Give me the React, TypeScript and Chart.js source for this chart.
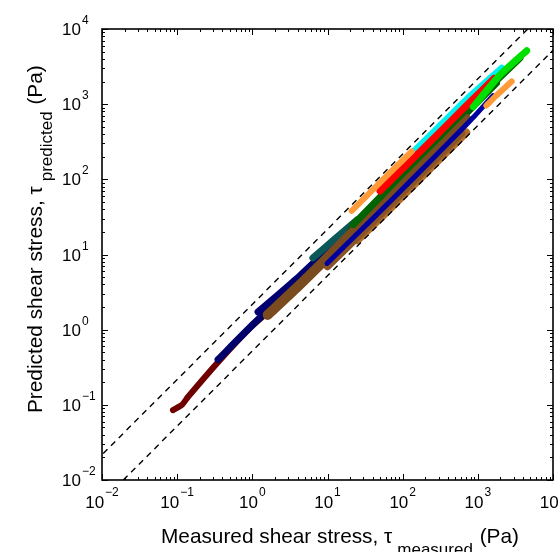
import React, { useEffect, useRef } from "react";
import { Chart, registerables } from "chart.js";

Chart.register(...registerables);

// ---- axis ranges and tick labels ----
const AXIS_MIN = 0.01;
const AXIS_MAX = 10000;
const TICK_EXPONENTS = [-2, -1, 0, 1, 2, 3, 4];
const X_TITLE = "Measured shear stress, τ";
const X_TITLE_SUB = "measured";
const Y_TITLE = "Predicted shear stress, τ";
const Y_TITLE_SUB = "predicted";
const TITLE_UNIT = " (Pa)";

// ---- reference lines: factor-of-two band ----
const UPPER_LINE = [[0.004, 0.0087], [10000, 21700]];
const LOWER_LINE = [[0.0192, 0.01], [19200, 10000]];

// ---- series (measured, predicted) in Pa, listed bottom to top ----
const maroonSeries = [[0.088, 0.085], [0.116, 0.1], [0.139, 0.127], [0.35, 0.37], [0.93, 1.05], [1.8, 1.9], [3, 3.1]];
const navySeries = [[0.35, 0.4], [1.0, 1.15], [3, 3.3], [8, 8], [20, 18]];
const navy2Series = [[1.19, 1.72], [2.2, 2.9], [4.3, 5.2], [10, 11.5], [25, 26]];
const tealSeries = [[6.4, 9.0], [12, 15.5], [25, 29]];
const ochreSeries = [[25, 15.5], [60, 36], [150, 90], [400, 240], [700, 420]];
const brown2Series = [[10, 7], [30, 20.5], [100, 68], [300, 205], [600, 410]];
const darkGreen2Series = [[20, 21], [60, 63], [200, 210], [600, 630], [1800, 1900]];
const greenSeries = [[12, 10.5], [20, 17], [45, 38], [100, 84]];
const brownSeries = [[1.6, 1.57], [4, 3.7], [10, 9.1], [30, 27.5], [100, 92], [300, 276], [700, 640]];
const blueSeries = [[9.85, 7.6], [40, 30], [150, 112], [426, 320], [900, 690], [1590, 1300]];
const darkGreenSeries = [[22, 25], [50, 58], [92, 110], [300, 360], [787, 950], [3640, 4110]];
const cyanSeries = [[79, 133], [250, 410], [740, 1200], [2076, 3000]];
const redSeries = [[50, 70], [120, 165], [253, 345], [700, 950], [1640, 2200]];
const orangeSeries = [[21, 38], [55, 100], [132, 235]];
const orange2Series = [[1300, 960], [1690, 1250], [2820, 2000]];
const limeSeries = [[871, 925], [1972, 2443], [4467, 5140]];

const SERIES = [
  { data: maroonSeries, color: "#6e0000", width: 6 },
  { data: navySeries, color: "#00006a", width: 7 },
  { data: navy2Series, color: "#000070", width: 7 },
  { data: tealSeries, color: "#0c5858", width: 7 },
  { data: ochreSeries, color: "#b06c2c", width: 8 },
  { data: brown2Series, color: "#8a5526", width: 8 },
  { data: darkGreen2Series, color: "#005a00", width: 6 },
  { data: greenSeries, color: "#008000", width: 5 },
  { data: brownSeries, color: "#7b4b20", width: 10 },
  { data: blueSeries, color: "#0000a0", width: 5 },
  { data: darkGreenSeries, color: "#006400", width: 7 },
  { data: cyanSeries, color: "#00f0f0", width: 7 },
  { data: redSeries, color: "#ff0000", width: 7 },
  { data: orangeSeries, color: "#ff9a38", width: 6 },
  { data: orange2Series, color: "#ff9a38", width: 6 },
  { data: limeSeries, color: "#00e000", width: 7 },
];

const FONT = "'Liberation Sans', Arial, Helvetica, sans-serif";

const axesPlugin = {
  id: "matlabAxes",
  afterDraw(chart: any) {
    const { ctx, chartArea } = chart;
    const xs = chart.scales.x;
    const ys = chart.scales.y;
    const { left, right, top, bottom } = chartArea;
    ctx.save();
    ctx.strokeStyle = "#000";
    ctx.fillStyle = "#000";

    // ticks
    ctx.lineWidth = 1;
    ctx.beginPath();
    for (let i = 0; i < TICK_EXPONENTS.length; i++) {
      const e = TICK_EXPONENTS[i];
      const base = Math.pow(10, e);
      const mults = i < TICK_EXPONENTS.length - 1 ? [1, 2, 3, 4, 5, 6, 7, 8, 9] : [1];
      for (const m of mults) {
        const v = base * m;
        const len = m === 1 ? 6 : 3;
        const px = Math.round(xs.getPixelForValue(v)) + 0.5;
        const py = Math.round(ys.getPixelForValue(v)) + 0.5;
        ctx.moveTo(px, bottom); ctx.lineTo(px, bottom - len);
        ctx.moveTo(px, top); ctx.lineTo(px, top + len);
        ctx.moveTo(left, py); ctx.lineTo(left + len, py);
        ctx.moveTo(right, py); ctx.lineTo(right - len, py);
      }
    }
    ctx.stroke();

    // frame
    ctx.lineWidth = 1.6;
    ctx.strokeRect(left, top, right - left, bottom - top);

    // tick labels
    for (const e of TICK_EXPONENTS) {
      const v = Math.pow(10, e);
      const ex = e < 0 ? "\u2212" + Math.abs(e) : String(e);
      ctx.font = "17px " + FONT;
      const w10 = ctx.measureText("10").width;
      ctx.font = "12px " + FONT;
      const wex = ctx.measureText(ex).width;
      // x axis
      const px = xs.getPixelForValue(v);
      const sx = px - (w10 + 1 + wex) / 2;
      ctx.textAlign = "left";
      ctx.textBaseline = "alphabetic";
      ctx.font = "17px " + FONT;
      ctx.fillText("10", sx, 508);
      ctx.font = "12px " + FONT;
      ctx.fillText(ex, sx + w10 + 1, 496);
      // y axis
      const py = ys.getPixelForValue(v);
      ctx.font = "17px " + FONT;
      ctx.fillText("10", 62, py + 6);
      ctx.font = "12px " + FONT;
      ctx.fillText(ex, 62 + w10 + 1, py - 5);
    }

    // x title
    const MAIN = "20.8px " + FONT;
    const SUB = "17px " + FONT;
    ctx.font = MAIN;
    let x0 = 161;
    ctx.fillText(X_TITLE, x0, 543);
    x0 += ctx.measureText(X_TITLE).width + 5;
    ctx.font = SUB;
    ctx.fillText(X_TITLE_SUB, x0, 555);
    x0 += ctx.measureText(X_TITLE_SUB).width + 1;
    ctx.font = MAIN;
    ctx.fillText(TITLE_UNIT, x0, 543);

    // y title
    ctx.save();
    ctx.translate(42, 413);
    ctx.rotate(-Math.PI / 2);
    ctx.font = MAIN;
    let y0 = 0;
    ctx.fillText(Y_TITLE, y0, 0);
    y0 += ctx.measureText(Y_TITLE).width + 5;
    ctx.font = SUB;
    ctx.fillText(Y_TITLE_SUB, y0, 10);
    y0 += ctx.measureText(Y_TITLE_SUB).width + 1;
    ctx.font = MAIN;
    ctx.fillText(TITLE_UNIT, y0, 0);
    ctx.restore();

    ctx.restore();
  },
};

export default function App() {
  const canvasRef = useRef<HTMLCanvasElement | null>(null);

  useEffect(() => {
    const canvas = canvasRef.current;
    if (!canvas) return;
    const n = SERIES.length;
    const datasets: any[] = SERIES.map((s, i) => ({
      data: s.data.map(([x, y]) => ({ x, y })),
      borderColor: s.color,
      backgroundColor: s.color,
      borderWidth: s.width,
      borderCapStyle: "round",
      borderJoinStyle: "round",
      pointRadius: 0,
      tension: 0.2,
      fill: false,
      order: n + 2 - i,
    }));
    for (const line of [UPPER_LINE, LOWER_LINE]) {
      datasets.push({
        data: line.map(([x, y]) => ({ x, y })),
        borderColor: "#000",
        borderWidth: 1.4,
        borderDash: [6, 5],
        pointRadius: 0,
        fill: false,
        order: 0,
      });
    }

    const chart = new Chart(canvas, {
      type: "line",
      data: { datasets },
      options: {
        animation: false,
        responsive: false,
        devicePixelRatio: 1,
        layout: { padding: { left: 102, top: 29, right: 5, bottom: 72 } },
        plugins: { legend: { display: false }, tooltip: { enabled: false } },
        scales: {
          x: { type: "logarithmic", min: AXIS_MIN, max: AXIS_MAX, display: false },
          y: { type: "logarithmic", min: AXIS_MIN, max: AXIS_MAX, display: false },
        },
      },
      plugins: [axesPlugin],
    } as any);
    return () => chart.destroy();
  }, []);

  return (
    <div style={{ position: "fixed", left: 0, top: 0, width: 558, height: 552, background: "#fff" }}>
      <canvas ref={canvasRef} width={558} height={552} style={{ display: "block", width: 558, height: 552 }} />
    </div>
  );
}
